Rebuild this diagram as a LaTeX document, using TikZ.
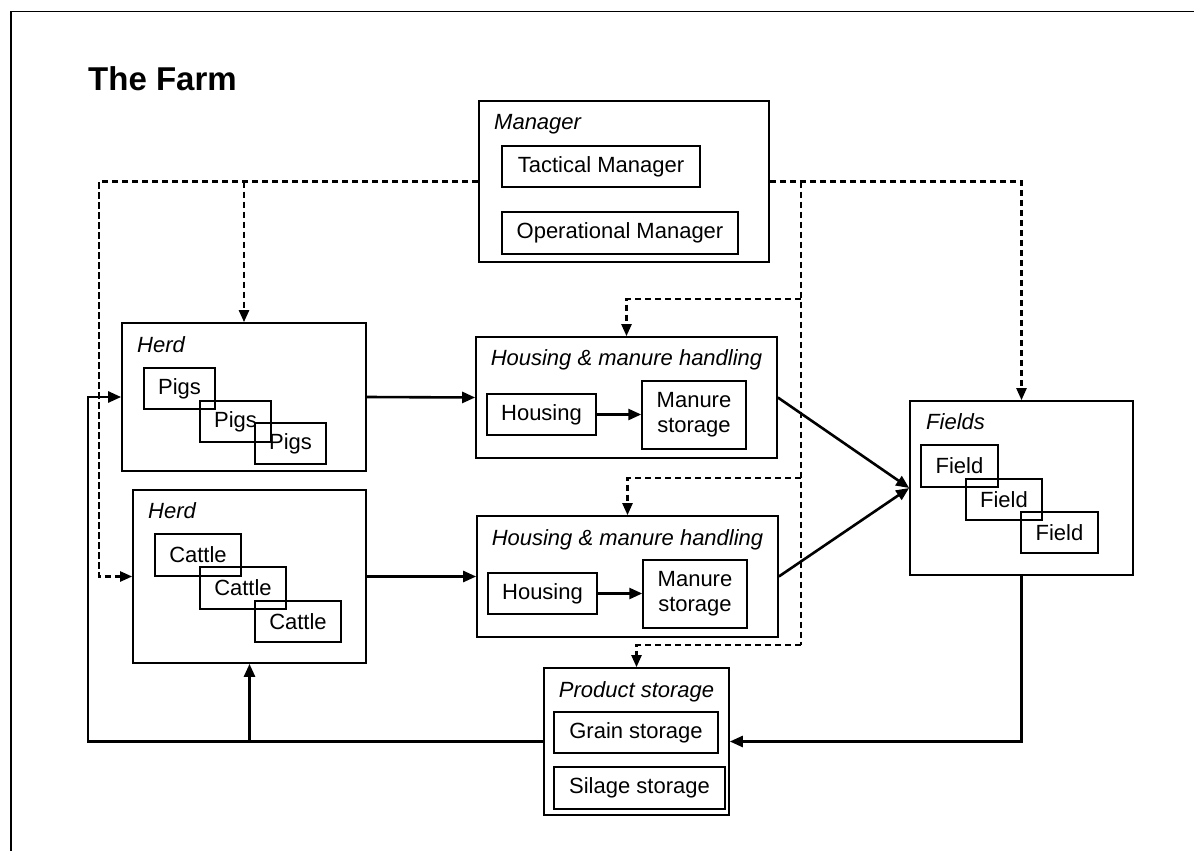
\documentclass[tikz,border=0pt]{standalone}
\usepackage{fontspec}
\setmainfont{Liberation Sans}
\usetikzlibrary{arrows.meta}
\begin{document}
\begin{tikzpicture}[x=1pt,y=-1pt,
  lbl/.style={font=\fontsize{22}{25}\selectfont\itshape, inner sep=0pt},
  outer/.style={draw, line width=1.7pt, inner sep=0pt},
  inner/.style={draw, line width=1.5pt, inner sep=0pt, font=\fontsize{22}{25}\selectfont, align=center},
  flow/.style={line width=2.6pt, -{Triangle[length=13pt,width=11pt]}},
  ctrl/.style={line width=2.4pt, dash pattern=on 6.5pt off 3.5pt, -{Triangle[length=12pt,width=10pt]}},
  ctrlline/.style={line width=2.4pt, dash pattern=on 6.5pt off 3.5pt}
]
\useasboundingbox (0,0) rectangle (1194,851);
% frame
\draw[line width=1.6pt] (11,851) -- (11,11.5) -- (1194,11.5);
% title
\node[anchor=base west, inner sep=0pt, font=\fontsize{33}{38}\selectfont\bfseries] (title) at (88,90) {The Farm};

% Manager
\node[outer, minimum width=290pt, minimum height=161pt] (mgr) at (624,181.5) {};
\node[lbl, anchor=base west] (mgrl) at (494,129) {Manager};
\node[inner, minimum width=198pt, minimum height=41pt] (tac) at (601,166.5) {Tactical Manager};
\node[inner, minimum width=236pt, minimum height=42pt] (ops) at (620,233) {Operational Manager};

% Herd pigs
\node[outer, minimum width=244pt, minimum height=148pt] (herdP) at (244,397) {};
\node[lbl, anchor=base west] (herdPl) at (137,352) {Herd};
\node[inner, minimum width=71pt, minimum height=41pt] (pig1) at (179.5,388.5) {Pigs};
\node[inner, minimum width=71pt, minimum height=41pt] (pig2) at (235.5,421.5) {Pigs};
\node[inner, minimum width=71pt, minimum height=41pt] (pig3) at (290.5,443.5) {Pigs};

% Herd cattle
\node[outer, minimum width=233pt, minimum height=173pt] (herdC) at (249.5,576.5) {};
\node[lbl, anchor=base west] (herdCl) at (148,518) {Herd};
\node[inner, minimum width=86pt, minimum height=42pt] (cat1) at (198,555) {Cattle};
\node[inner, minimum width=86pt, minimum height=42pt] (cat2) at (243,588) {Cattle};
\node[inner, minimum width=86pt, minimum height=41pt] (cat3) at (298,621.5) {Cattle};

% Housing 1
\node[outer, minimum width=301pt, minimum height=121pt] (hous1) at (626.5,397.5) {};
\node[lbl, anchor=base] (hous1l) at (626.5,365) {Housing \& manure handling};
\node[inner, minimum width=109pt, minimum height=41pt] (h1) at (541.5,414.5) {Housing};
\node[inner, minimum width=104pt, minimum height=68pt] (m1) at (694,415) {Manure\\storage};

% Housing 2
\node[outer, minimum width=301pt, minimum height=121pt] (hous2) at (627.5,576.5) {};
\node[lbl, anchor=base] (hous2l) at (627.5,545) {Housing \& manure handling};
\node[inner, minimum width=109pt, minimum height=41pt] (h2) at (542.5,593.5) {Housing};
\node[inner, minimum width=104pt, minimum height=68pt] (m2) at (695,594) {Manure\\storage};

% Fields
\node[outer, minimum width=223pt, minimum height=174pt] (fields) at (1021.5,488) {};
\node[lbl, anchor=base west] (fieldsl) at (926,429) {Fields};
\node[inner, minimum width=77pt, minimum height=42pt] (f1) at (959.5,466) {Field};
\node[inner, minimum width=76pt, minimum height=41pt] (f2) at (1004,499.5) {Field};
\node[inner, minimum width=77pt, minimum height=41pt] (f3) at (1059.5,532.5) {Field};

% Product storage
\node[outer, minimum width=185pt, minimum height=147pt] (prod) at (636.5,741.5) {};
\node[lbl, anchor=base] (prodl) at (636.5,697) {Product storage};
\node[inner, minimum width=164pt, minimum height=41pt] (grain) at (636,732.5) {Grain storage};
\node[inner, minimum width=171pt, minimum height=42pt] (silage) at (639.5,788) {Silage storage};

% coordinates
\coordinate (dL) at (99,181.5);
\coordinate (dR) at (801,181.5);
\coordinate (b1) at (801,299);
\coordinate (b2) at (801,478);
\coordinate (b3) at (801,645);
\coordinate (cL) at (88,741.5);

% control (dashed) connectors
\draw[ctrl] (mgr.west) -- (dL) |- (herdC.west);
\draw[ctrl] (herdP.north |- mgr.west) -- (herdP.north);
\draw[ctrl] (mgr.east) -| (fields.north);
\draw[ctrlline] (dR) -- (b3);
\draw[ctrl] (b1) -| (hous1.north);
\draw[ctrl] (b2) -| (hous2.north);
\draw[ctrl] (b3) -| (prod.north);

% material flows
\draw[flow] (herdP.east) -- (hous1.west);
\draw[flow] (herdC.east) -- (hous2.west);
\draw[flow] (h1.east) -- (h1.east -| m1.west);
\draw[flow] (h2.east) -- (h2.east -| m2.west);
\draw[flow] (hous1.east) -- (fields.west);
\draw[flow] (hous2.east) -- (fields.west);
\draw[flow] (fields.south) |- (prod.east);
\draw[flow] (prod.west) -- (cL) |- (herdP.west);
\draw[flow] (herdC.south |- prod.west) -- (herdC.south);
\end{tikzpicture}
\end{document}
